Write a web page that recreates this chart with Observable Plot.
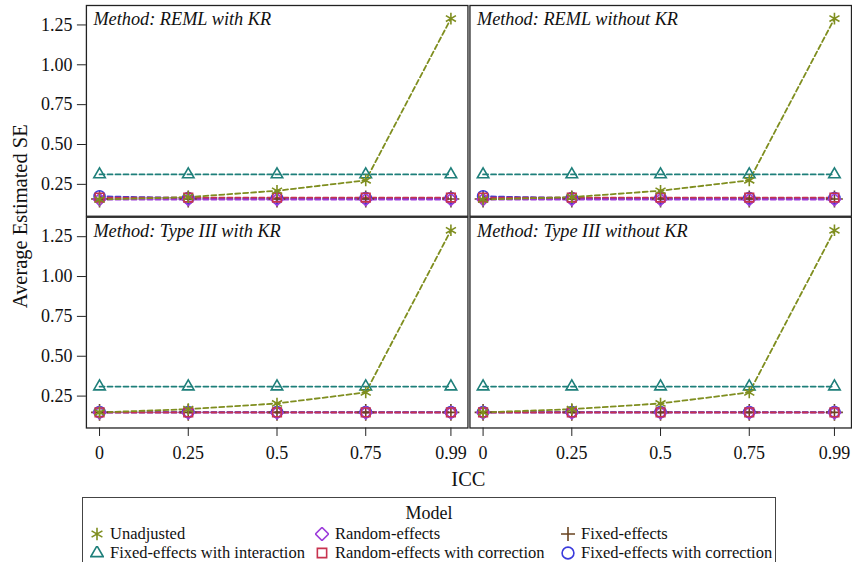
<!DOCTYPE html>
<html>
<head>
<meta charset="utf-8">
<script src="https://cdn.jsdelivr.net/npm/d3@7"></script>
<script src="https://cdn.jsdelivr.net/npm/@observablehq/plot@0.6"></script>
<style>
  html, body { margin: 0; padding: 0; background: #fff; overflow: hidden; }
  body { position: relative; width: 852px; height: 562px; font-family: "Liberation Serif", "Times New Roman", serif; }
  #chart svg { display: block; }
  #chart svg text { font-family: "Liberation Serif", "Times New Roman", serif !important; }
  #legend {
    position: absolute; left: 82px; top: 497px; width: 694px; height: 80px;
    border: 1px solid #444; box-sizing: border-box; color: #111;
    font-family: "Liberation Serif", "Times New Roman", serif;
  }
  #legend .title { text-align: center; font-size: 18px; line-height: 18px; margin-top: 6px; }
  #legend .grid {
    display: grid; grid-template-columns: 225px 246px 216px;
    margin-left: 7px; margin-top: 3px; row-gap: 1px;
  }
  #legend .item {
    display: flex; align-items: center; font-size: 16.5px; line-height: 18px; white-space: nowrap;
    font-family: "Liberation Serif", "Times New Roman", serif;
  }
  #legend .item svg { width: 14px; height: 14px; margin-right: 6px; flex: none; }
</style>
</head>
<body>
<div id="chart"></div>
<div id="legend"></div>
<script>
// ICC levels on the x axis and their printed labels
const iccValues = [0, 0.25, 0.5, 0.75, 0.99];
const iccLabels = ["0", "0.25", "0.5", "0.75", "0.99"];
const seTicks = [0.25, 0.5, 0.75, 1.0, 1.25];

// Panels: estimation method, laid out as rows (test) x columns (KR)
const methods = ["REML with KR", "REML without KR", "Type III with KR", "Type III without KR"];
const methodRows = ["REML", "REML", "Type III", "Type III"];
const methodCols = ["with KR", "without KR", "with KR", "without KR"];

// Models, in legend order (row by row)
const models = [
  "Unadjusted", "Random-effects", "Fixed-effects",
  "Fixed-effects with interaction", "Random-effects with correction", "Fixed-effects with correction"
];
const modelColors = ["#7f8e1f", "#9d3cdb", "#6a4420", "#1e7f7a", "#c8334f", "#3b3bdc"];
const modelSymbols = ["asterisk", "diamond2", "plus", "triangle2", "square2", "circle"];

// Average estimated SE per method (one row per method), across ICC levels
const seUnadjusted = [
  [0.155, 0.170, 0.210, 0.275, 1.290],
  [0.155, 0.170, 0.210, 0.275, 1.290],
  [0.148, 0.168, 0.204, 0.273, 1.290],
  [0.148, 0.168, 0.204, 0.273, 1.290]
];
const seRandom = [
  [0.155, 0.155, 0.155, 0.155, 0.155],
  [0.155, 0.155, 0.155, 0.155, 0.155],
  [0.146, 0.146, 0.146, 0.146, 0.146],
  [0.146, 0.146, 0.146, 0.146, 0.146]
];
const seFixed = [
  [0.158, 0.158, 0.158, 0.158, 0.158],
  [0.158, 0.158, 0.158, 0.158, 0.158],
  [0.148, 0.148, 0.148, 0.148, 0.148],
  [0.148, 0.148, 0.148, 0.148, 0.148]
];
const seFixedInteraction = [
  [0.312, 0.312, 0.312, 0.312, 0.312],
  [0.312, 0.312, 0.312, 0.312, 0.312],
  [0.310, 0.310, 0.310, 0.310, 0.310],
  [0.310, 0.310, 0.310, 0.310, 0.310]
];
const seRandomCorrected = [
  [0.167, 0.167, 0.167, 0.167, 0.167],
  [0.167, 0.167, 0.167, 0.167, 0.167],
  [0.148, 0.148, 0.148, 0.148, 0.148],
  [0.148, 0.148, 0.148, 0.148, 0.148]
];
const seFixedCorrected = [
  [0.175, 0.164, 0.164, 0.164, 0.164],
  [0.175, 0.164, 0.164, 0.164, 0.164],
  [0.150, 0.150, 0.150, 0.150, 0.150],
  [0.150, 0.150, 0.150, 0.150, 0.150]
];

const seByModel = {
  "Unadjusted": seUnadjusted,
  "Random-effects": seRandom,
  "Fixed-effects": seFixed,
  "Fixed-effects with interaction": seFixedInteraction,
  "Random-effects with correction": seRandomCorrected,
  "Fixed-effects with correction": seFixedCorrected
};

// Long table: one row per method x model x ICC (later models drawn on top)
const drawOrder = [
  "Fixed-effects", "Fixed-effects with correction", "Random-effects",
  "Random-effects with correction", "Fixed-effects with interaction", "Unadjusted"
];
const rows = [];
methods.forEach((m, mi) => {
  drawOrder.forEach(model => {
    iccValues.forEach((icc, i) => {
      rows.push({method: m, row: methodRows[mi], col: methodCols[mi], model, icc, se: seByModel[model][mi][i]});
    });
  });
});
const panels = methods.map((m, mi) => ({method: m, row: methodRows[mi], col: methodCols[mi]}));

const font = '"Liberation Serif", "Times New Roman", serif';

const chart = Plot.plot({
  width: 853,
  height: 495,
  marginLeft: 86,
  marginRight: 0,
  marginTop: 5,
  marginBottom: 67,
  style: {fontFamily: font, fontSize: "18px", color: "#111", background: "#fff"},
  x: {domain: [-0.037, 1.038]},
  y: {domain: [0.05, 1.372]},
  fx: {domain: ["with KR", "without KR"], paddingInner: 0.005, paddingOuter: 0, axis: null},
  fy: {domain: ["REML", "Type III"], paddingInner: 0.006, paddingOuter: 0, axis: null},
  color: {domain: models, range: modelColors},
  symbol: {domain: models, range: modelSymbols},
  marks: [
    Plot.frame({stroke: "#222", strokeWidth: 1.3}),
    Plot.axisX({
      ticks: iccValues, tickFormat: d => iccLabels[iccValues.indexOf(d)],
      tickSize: 8.5, tickPadding: 10, label: null, fontSize: 18, fontFamily: font, stroke: "#222"
    }),
    Plot.axisY({
      ticks: seTicks, tickFormat: d3.format(".2f"),
      tickSize: 9, tickPadding: 5, label: null, fontSize: 18, fontFamily: font, stroke: "#222"
    }),
    Plot.line(rows, {
      fx: "col", fy: "row", x: "icc", y: "se", z: "model", stroke: "model",
      strokeWidth: 1.8, strokeDasharray: "5,3"
    }),
    Plot.dot(rows, {
      fx: "col", fy: "row", x: "icc", y: "se", stroke: "model", symbol: "model",
      r: 5.5, strokeWidth: 1.6, fill: "none"
    }),
    Plot.text(panels, {
      fx: "col", fy: "row", text: d => "Method: " + d.method,
      frameAnchor: "top-left", dx: 7, dy: 7, fontStyle: "italic", fontSize: 18.3,
      fontFamily: font, fill: "#111"
    })
  ]
});

// Shared axis titles
const svg = d3.select(chart);
svg.append("text")
  .attr("transform", "translate(22,216.5) rotate(-90)")
  .attr("text-anchor", "middle").attr("dominant-baseline", "middle")
  .attr("font-size", 20.5).attr("font-family", font).attr("fill", "#111")
  .text("Average Estimated SE");
svg.append("text")
  .attr("x", 469).attr("y", 482)
  .attr("text-anchor", "middle").attr("dominant-baseline", "middle")
  .attr("font-size", 20.5).attr("font-family", font).attr("fill", "#111")
  .text("ICC");

document.getElementById("chart").append(chart);

// Legend: symbol swatches from the same color and symbol scales
const legend = d3.select("#legend");
legend.append("div").attr("class", "title").text("Model");
const grid = legend.append("div").attr("class", "grid");
const colorScale = chart.scale("color");
const symbolScale = chart.scale("symbol");
models.forEach((model, i) => {
  const item = grid.append("div").attr("class", "item");
  const s = item.append("svg").attr("viewBox", "-7 -7 14 14");
  s.append("path")
    .attr("d", d3.symbol(symbolScale.range[i], 110)())
    .attr("fill", "none")
    .attr("stroke", colorScale.range[i])
    .attr("stroke-width", 1.6);
  item.append("span").text(model);
});
</script>
</body>
</html>
